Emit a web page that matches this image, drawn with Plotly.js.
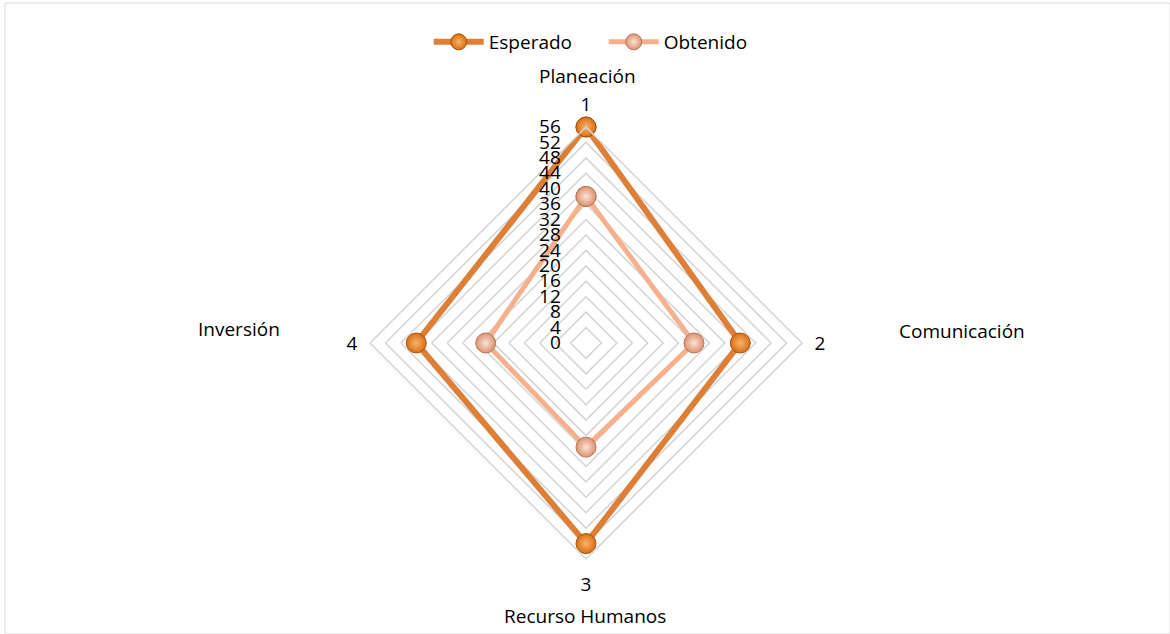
<!DOCTYPE html>
<html>
<head>
<meta charset="utf-8">
<script src="https://cdn.plot.ly/plotly-3.0.1.min.js"></script>
<style>html,body{margin:0;padding:0;background:#fff}#chart{width:1170px;height:634px}</style>
</head>
<body>
<div id="chart"></div>
<script>
// Data
const categories = ['Planeación', 'Comunicación', 'Recurso Humanos', 'Inversión'];
const tickLabels = ['1', '2', '3', '4'];
const esperado = [56, 40, 52, 44];
const obtenido = [38, 28, 27, 26];
const seriesNames = ['Esperado', 'Obtenido'];
const radialTicks = [0, 4, 8, 12, 16, 20, 24, 28, 32, 36, 40, 44, 48, 52, 56];

const FONT = 'Open Sans, Noto Sans, sans-serif';
const FS = 20;
const closeLoop = a => a.concat([a[0]]);

const traces = [
  {
    type: 'scatterpolar', mode: 'lines+markers', name: seriesNames[0],
    r: closeLoop(esperado), theta: closeLoop(tickLabels),
    line: {color: '#DE7F37', width: 6},
    marker: {size: 20, color: '#D86F14', line: {color: '#A9520F', width: 1},
             gradient: {type: 'radial', color: '#F9B46A'}},
    cliponaxis: false
  },
  {
    type: 'scatterpolar', mode: 'lines+markers', name: seriesNames[1],
    r: closeLoop(obtenido), theta: closeLoop(tickLabels),
    line: {color: '#F7B08E', width: 5},
    marker: {size: 20, color: '#DC9271', line: {color: '#B87658', width: 1},
             gradient: {type: 'radial', color: '#FCE3D3'}},
    cliponaxis: false
  }
];

// Positions for category name labels (paper coords)
const namePos = [
  {x: 587, y: 76}, {x: 962, y: 331}, {x: 585, y: 616}, {x: 239, y: 329}
];
const W = 1170, H = 634;
const annotations = categories.map((c, i) => ({
  text: c, xref: 'paper', yref: 'paper',
  x: namePos[i].x / W, y: 1 - namePos[i].y / H,
  xanchor: 'center', yanchor: 'middle', showarrow: false,
  font: {family: FONT, size: FS - 1, color: '#000'}
}));

const cx = 586, cy = 343, R = 216;
const layout = {
  width: W, height: H,
  margin: {l: 0, r: 0, t: 0, b: 0},
  paper_bgcolor: '#fff',
  font: {family: FONT, size: FS, color: '#000'},
  showlegend: true,
  legend: {
    orientation: 'h', x: 0.516, y: 1 - 42 / H, xanchor: 'center', yanchor: 'middle',
    font: {family: FONT, size: FS - 1, color: '#000'}, itemwidth: 50,
    entrywidth: 110, entrywidthmode: 'pixels', traceorder: 'normal'
  },
  polar: {
    domain: {x: [(cx - R) / W, (cx + R) / W], y: [(H - cy - R) / H, (H - cy + R) / H]},
    bgcolor: 'rgba(0,0,0,0)',
    gridshape: 'linear',
    angularaxis: {
      type: 'category', categoryarray: tickLabels,
      direction: 'clockwise', rotation: 90,
      showgrid: false, showline: true, linecolor: '#D4D4D4', linewidth: 1.5,
      ticks: 'outside', ticklen: 8, tickcolor: 'rgba(0,0,0,0)',
      tickfont: {family: FONT, size: FS - 1, color: '#000'}
    },
    radialaxis: {
      range: [0, 56], tickvals: radialTicks, ticktext: radialTicks.map(String),
      angle: 90, side: 'counterclockwise', tickangle: 90,
      showline: false, showgrid: true, gridcolor: '#D4D4D4', gridwidth: 1.5,
      ticks: 'outside', ticklen: 18, tickcolor: 'rgba(0,0,0,0)',
      tickfont: {family: FONT, size: FS - 1, color: '#000'}
    }
  },
  annotations: annotations,
  shapes: [{
    type: 'rect', xref: 'paper', yref: 'paper', x0: 5 / W, x1: 1, y0: 0, y1: 1 - 3 / H,
    line: {color: '#D9D9D9', width: 1}, fillcolor: 'rgba(0,0,0,0)', layer: 'below'
  }]
};

Plotly.newPlot('chart', traces, layout, {displayModeBar: false, staticPlot: true});
</script>
</body>
</html>
